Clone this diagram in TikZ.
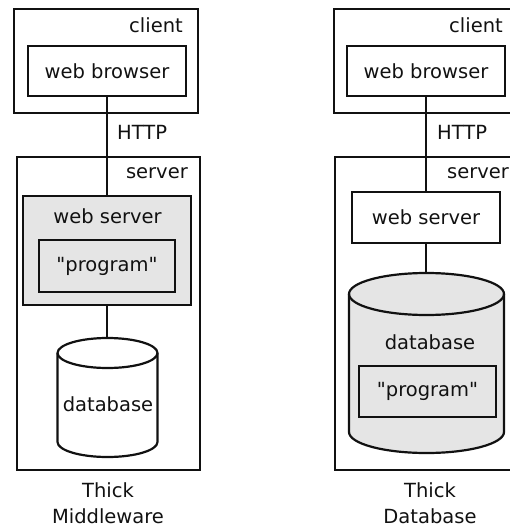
\documentclass[tikz,border=0pt]{standalone}
\usepackage{fontspec}
\setmainfont{DejaVu Sans}[Ligatures=TeXOff]
\definecolor{inkBlack}{RGB}{17,17,17}
\definecolor{boxGrey}{RGB}{229,229,229}

\tikzset{
  tierbox/.style={draw=inkBlack, line width=2.6pt, inner sep=0pt},
  partbox/.style={draw=inkBlack, line width=2.2pt, inner sep=0pt},
  dbline/.style={draw=inkBlack, line width=2.2pt},
  wire/.style={draw=inkBlack, line width=2pt},
  lbl/.style={inner sep=0pt, font=\fontsize{19.5pt}{26pt}\selectfont, text=inkBlack},
}

% upright cylinder: centre x, top y, bottom y, x radius, y radius (all in pt)
\newcommand{\dbdrum}[6]{%
  \path[dbline, fill=#6] (#1pt-#4pt,-#2pt-#5pt) -- (#1pt-#4pt,-#3pt+#5pt)
    arc[start angle=180, end angle=360, x radius=#4pt, y radius=#5pt]
    -- (#1pt+#4pt,-#2pt-#5pt)
    arc[start angle=0, end angle=180, x radius=#4pt, y radius=#5pt] -- cycle;
  \draw[dbline] (#1pt-#4pt,-#2pt-#5pt)
    arc[start angle=180, end angle=360, x radius=#4pt, y radius=#5pt];
}

\begin{document}
\begin{tikzpicture}[x=1pt,y=-1pt]
\clip (0,0) rectangle (510,527);

% thick middleware
\node[tierbox, minimum width=184pt, minimum height=104pt] (clientA) at (106,61) {};
\node[tierbox, minimum width=183pt, minimum height=313pt] (serverA) at (108.5,313.5) {};
\node[partbox, lbl, minimum width=158pt, minimum height=50pt] (browserA) at (107,71) {web browser};
\node[partbox, fill=boxGrey, minimum width=168pt, minimum height=109pt] (webA) at (107,250.5) {};
\node[lbl, anchor=base] (webAlbl) at (107.5,223) {web server};
\node[partbox, lbl, fill=boxGrey, minimum width=136pt, minimum height=52pt] (progA) at (107,266) {"program"};
\dbdrum{107.5}{338}{457}{50}{15}{white}
\coordinate (dbAtop) at (107,338);
\node[lbl] (dbA) at (108,404) {database};
\node[lbl, anchor=base east] at (183,33) {client};
\node[lbl, anchor=base east] at (188,178) {server};
\node[lbl, anchor=base west] at (117,139) {HTTP};
\node[lbl, align=center, anchor=base] at (108,523) {Thick\\Middleware};

\draw[wire] (browserA.south) -- (webA.north);
\draw[wire] (webA.south) -- (dbAtop);

% thick database
\node[tierbox, minimum width=184pt, minimum height=104pt] (clientB) at (426,61) {};
\node[tierbox, minimum width=185pt, minimum height=313pt] (serverB) at (427.5,313.5) {};
\node[partbox, lbl, minimum width=158pt, minimum height=50pt] (browserB) at (426,71) {web browser};
\node[partbox, lbl, minimum width=148pt, minimum height=51pt] (webB) at (426,217.5) {web server};
\dbdrum{426.5}{273}{453}{77.5}{21}{boxGrey}
\coordinate (dbBtop) at (426,273);
\node[lbl, anchor=base] (dbB) at (430,349) {database};
\node[partbox, lbl, fill=boxGrey, minimum width=137pt, minimum height=51pt] (progB) at (427.5,391.5) {"program"};
\node[lbl, anchor=base east] at (503,33) {client};
\node[lbl, anchor=base west] at (447,178) {server};
\node[lbl, anchor=base west] at (437,139) {HTTP};
\node[lbl, align=center, anchor=base] at (430,523) {Thick\\Database};

\draw[wire] (browserB.south) -- (webB.north);
\draw[wire] (webB.south) -- (dbBtop);
\end{tikzpicture}
\end{document}
